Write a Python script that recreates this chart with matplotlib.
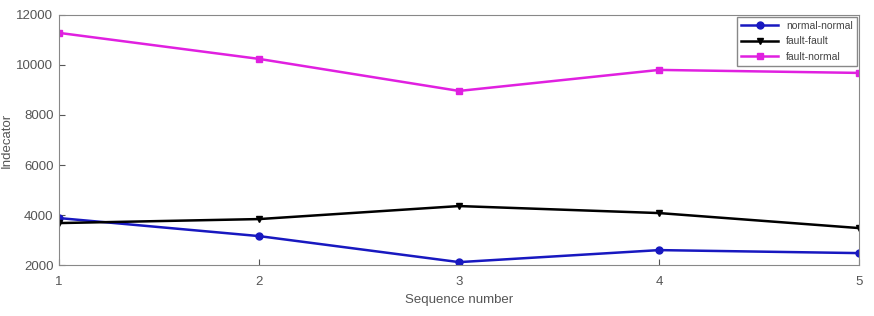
import matplotlib.pyplot as plt

seq = [1, 2, 3, 4, 5]
normal_normal = [3880, 3160, 2120, 2600, 2480]
fault_fault = [3680, 3840, 4360, 4080, 3480]
fault_normal = [11280, 10240, 8960, 9800, 9680]

plt.rcParams['font.family'] = ['Liberation Sans', 'DejaVu Sans']
fig = plt.figure(figsize=(8.74, 3.16), dpi=100)
ax = fig.add_axes([0.0675, 0.161, 0.9155, 0.792])

ax.plot(seq, normal_normal, color='#1818c0', marker='o', markersize=5, linewidth=1.8, label='normal-normal')
ax.plot(seq, fault_fault, color='black', marker='v', markersize=5, linewidth=1.8, label='fault-fault')
ax.plot(seq, fault_normal, color='#e020e0', marker='s', markersize=5, linewidth=1.8, label='fault-normal')

ax.set_xlim(1, 5)
ax.set_ylim(2000, 12000)
ax.set_xticks(seq)
ax.set_yticks(range(2000, 12001, 2000))
ax.tick_params(direction='in', labelsize=9.5, colors='#555555', length=4)
ax.tick_params(axis='x', pad=8)
ax.tick_params(axis='y', pad=4)
for s in ax.spines.values():
    s.set_color('#888888')
ax.set_xlabel('Sequence number', fontsize=9.5, color='#555555', labelpad=4)
ax.set_ylabel('Indecator', fontsize=9.5, color='#555555')
ax.yaxis.set_label_coords(-0.058, 0.5)
leg = ax.legend(loc='upper right', fontsize=7.5, fancybox=False, framealpha=1,
                edgecolor='#888888', borderaxespad=0.2, handlelength=3.5)
for t in leg.get_texts():
    t.set_color('#444444')

fig.savefig('out.png')
